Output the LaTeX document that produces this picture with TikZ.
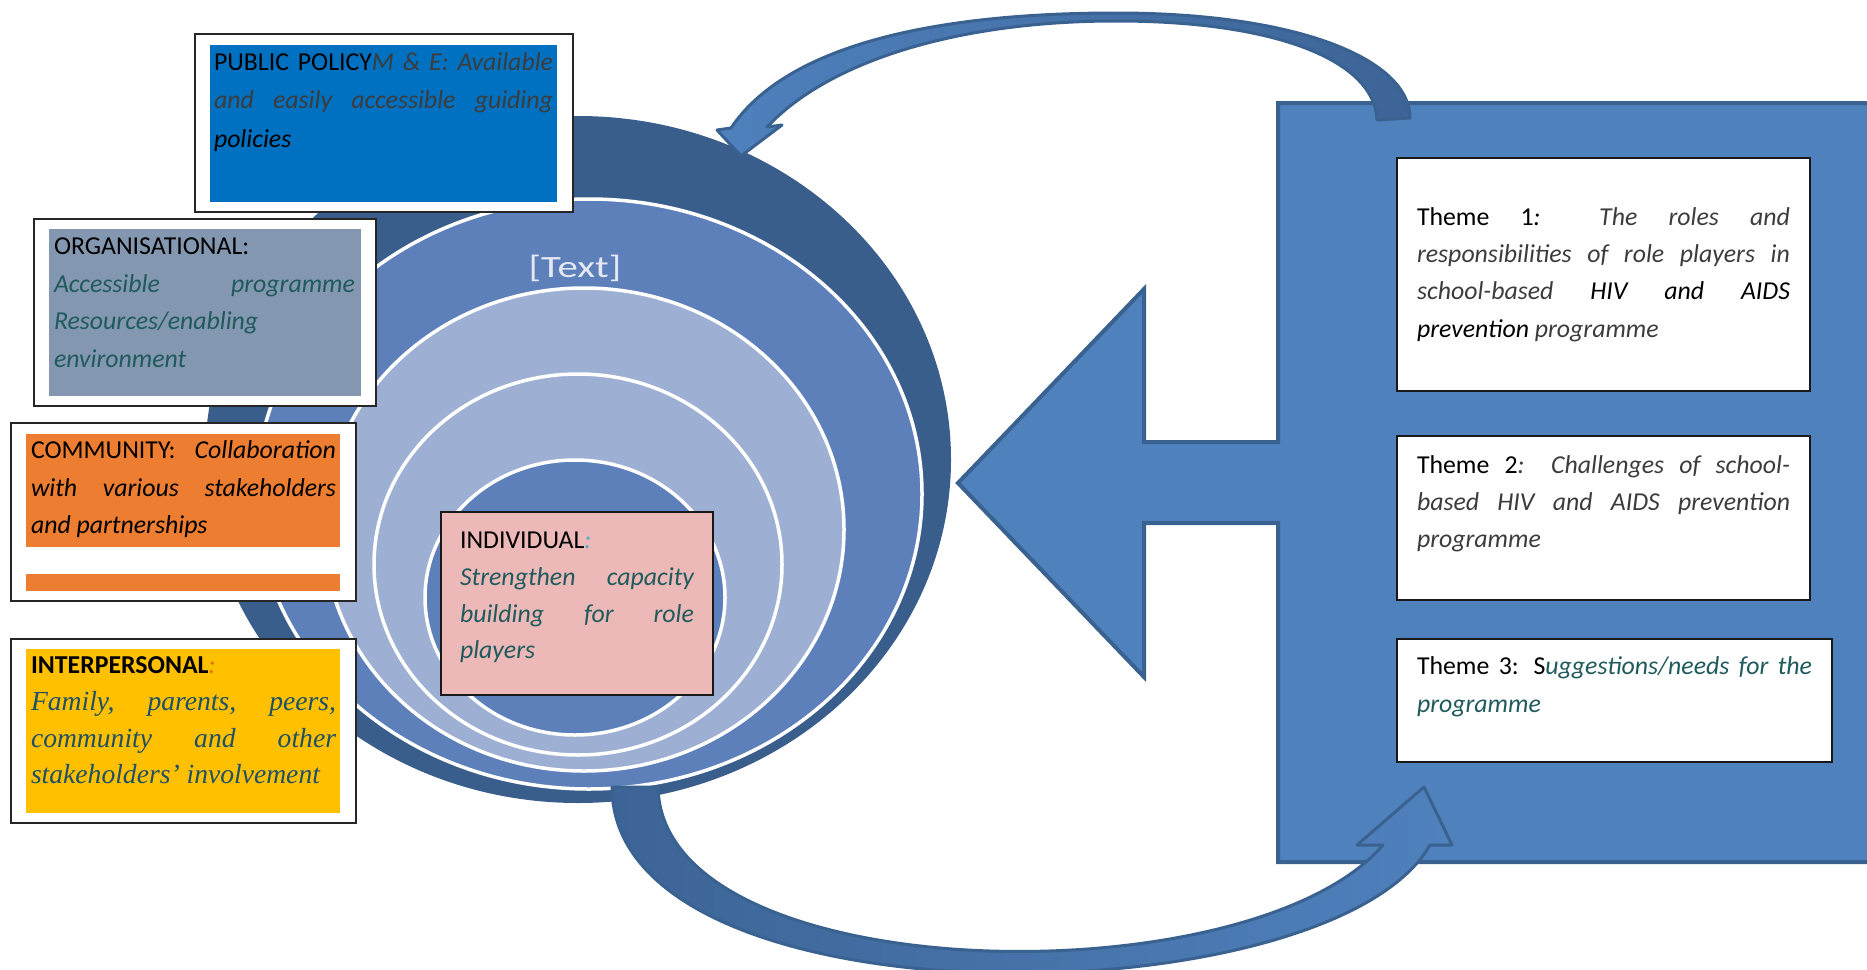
\documentclass[tikz,border=0pt]{standalone}
\usepackage{fontspec}
\setmainfont{Carlito}
\newfontfamily\cambria{Liberation Serif}
\usepackage{graphicx}
\definecolor{gtxt}{HTML}{3C3C3C}
\definecolor{teala}{HTML}{1F5A5C}
\definecolor{tealb}{HTML}{1F5066}
\definecolor{oranget}{HTML}{E46C0A}
\definecolor{cyant}{HTML}{4BACC6}
\definecolor{ppblue}{HTML}{0070C0}
\definecolor{orggray}{HTML}{8497B0}
\definecolor{orangebox}{HTML}{ED7D31}
\definecolor{yellowbox}{HTML}{FFC000}
\definecolor{pinkbox}{HTML}{ECB9B8}
\definecolor{darkring}{HTML}{3A5E8C}
\definecolor{midring}{HTML}{5D7FBA}
\definecolor{lightring}{HTML}{9DB0D3}
\definecolor{bigblue}{HTML}{4F81BD}
\definecolor{bigedge}{HTML}{3A6291}
\definecolor{arrdark}{HTML}{3D6496}
\definecolor{textlbl}{HTML}{E3E8F2}
\newsavebox\flbox
\newcommand\jl[2]{\sbox\flbox{#2}\ifdim\wd\flbox>#1\relax\resizebox{#1}{\height}{\usebox\flbox}\else\makebox[#1][s]{#2}\fi}
\tikzset{
  txt/.style={anchor=base west, inner sep=0pt, outer sep=0pt, font=\fontsize{25.8}{30}\selectfont},
  sertxt/.style={txt, font=\cambria\fontsize{27.6}{32}\selectfont},
  outerbox/.style={draw=black!85, line width=1.4pt, fill=white},
  themebox/.style={draw=black!90, line width=1.3pt, fill=white},
  ring/.style={draw=white, line width=3.5pt},
}
\begin{document}
\begin{tikzpicture}[x=1pt, y=-1pt]
\useasboundingbox (0,0) rectangle (1867,969);
\clip (0,0) rectangle (1867,969);
% nested ellipses
\fill[darkring] (578,459.5) ellipse [x radius=373pt, y radius=343.5pt];
\path[ring, fill=midring] (589,494) ellipse [x radius=333pt, y radius=295pt];
\path[ring, fill=lightring] (584,529.5) ellipse [x radius=260pt, y radius=241.5pt];
\path[ring, fill=lightring] (578,564.5) ellipse [x radius=204pt, y radius=190.5pt];
\path[ring, fill=midring] (575,597.5) ellipse [x radius=150pt, y radius=137.5pt];
\node[inner sep=0pt, text=textlbl, font=\fontsize{31}{31}\selectfont] (lbl) at (575,268) {\scalebox{1.32}[1]{[Text]}};

% big right arrow shape
\path[fill=bigblue, draw=bigedge, line width=4pt, line join=miter]
  (1278,103) -- (1900,103) -- (1900,862) -- (1278,862) -- (1278,523) -- (1144,523)
  -- (1144,677) -- (958,483) -- (1144,289) -- (1144,442) -- (1278,442) -- cycle;

% theme boxes
\draw[themebox] (1397,158) rectangle (1810,391);
\draw[themebox] (1397,436) rectangle (1810,600);
\draw[themebox] (1397,639) rectangle (1832,762);

% left boxes
\draw[outerbox] (195,34) rectangle (573,212);
\fill[ppblue] (210,45) rectangle (557,202);
\draw[outerbox] (34,219) rectangle (376,406);
\fill[orggray] (49,229) rectangle (361,396);
\draw[outerbox] (11,423) rectangle (356,601);
\fill[orangebox] (26,434) rectangle (340,547);
\fill[orangebox] (26,574) rectangle (340,591);
\draw[outerbox] (11,639) rectangle (356,823);
\fill[yellowbox] (26,649) rectangle (340,813);
\draw[draw=black!90, line width=1.5pt, fill=pinkbox] (441,512) rectangle (713,695);

% curved arrows
\path[draw=bigedge, line width=3pt, line join=round, left color=bigblue, right color=arrdark]
  (731,128) .. controls (790,40) and (950,13) .. (1116,13)
  .. controls (1300,13) and (1410,60) .. (1410,118) -- (1377,120)
  .. controls (1375,62) and (1280,21) .. (1116,21)
  .. controls (960,21) and (830,60) .. (767,127)
  -- (782,125) -- (741,156) -- (717,130) -- cycle;
\path[draw=bigedge, line width=3pt, line join=round, left color=arrdark, right color=bigblue]
  (612,787) .. controls (612,1030) and (1330,1020) .. (1430,845)
  -- (1452,845) -- (1424,787) -- (1357,845) -- (1383,845)
  .. controls (1250,1000) and (662,990) .. (658,787) -- cycle;

% public policy
\node[txt] (pp1) at (214,70) {\jl{339pt}{PUBLIC POLICY{\itshape\color{gtxt}M \& E: Available}}};
\node[txt] (pp2) at (214,108) {\jl{339pt}{\itshape\color{gtxt}and easily accessible guiding}};
\node[txt] (pp3) at (214,147) {\itshape policies};
% organisational
\node[txt] (or1) at (54,254) {ORGANISATIONAL:};
\node[txt] (or2) at (54,292) {\jl{301pt}{\itshape\color{teala}Accessible programme}};
\node[txt] (or3) at (54,329) {\itshape\color{teala}Resources/enabling};
\node[txt] (or4) at (54,367) {\itshape\color{teala}environment};
% community
\node[txt] (co1) at (31,458) {\jl{305pt}{COMMUNITY: {\itshape Collaboration}}};
\node[txt] (co2) at (31,496) {\jl{305pt}{\itshape with various stakeholders}};
\node[txt] (co3) at (31,533) {\itshape and partnerships};
% interpersonal
\node[txt] (ip1) at (31,673) {{\bfseries INTERPERSONAL}{\itshape\color{oranget}:}};
\node[sertxt] (ip2) at (31,710) {\jl{305pt}{\itshape\color{tealb}Family, parents, peers,}};
\node[sertxt] (ip3) at (31,747) {\jl{305pt}{\itshape\color{tealb}community and other}};
\node[sertxt] (ip4) at (31,783) {\itshape\color{tealb}stakeholders’ involvement};
% individual
\node[txt] (in1) at (460,548) {INDIVIDUAL{\itshape\color{cyant}:}};
\node[txt] (in2) at (460,585) {\jl{234pt}{\itshape\color{teala}Strengthen capacity}};
\node[txt] (in3) at (460,622) {\jl{234pt}{\itshape\color{teala}building for role}};
\node[txt] (in4) at (460,658) {\itshape\color{teala}players};
% theme 1
\node[txt] (t11) at (1417,225) {\jl{373pt}{Theme 1{\itshape:} {\itshape\color{gtxt}The roles and}}};
\node[txt] (t12) at (1417,262) {\jl{373pt}{\itshape\color{gtxt}responsibilities of role players in}};
\node[txt] (t13) at (1417,299) {\jl{373pt}{\itshape{\color{gtxt}school-based} HIV and AIDS}};
\node[txt] (t14) at (1417,337) {\itshape prevention {\color{gtxt}programme}};
% theme 2
\node[txt] (t21) at (1417,473) {\jl{373pt}{Theme 2{\itshape\color{gtxt}: Challenges of school-}}};
\node[txt] (t22) at (1417,510) {\jl{373pt}{\itshape\color{gtxt}based HIV and AIDS prevention}};
\node[txt] (t23) at (1417,547) {\itshape\color{gtxt}programme};
% theme 3
\node[txt] (t31) at (1417,674) {\jl{395pt}{Theme 3: S{\itshape\color{teala}uggestions/needs for the}}};
\node[txt] (t32) at (1417,712) {\itshape\color{teala}programme};
\end{tikzpicture}
\end{document}
